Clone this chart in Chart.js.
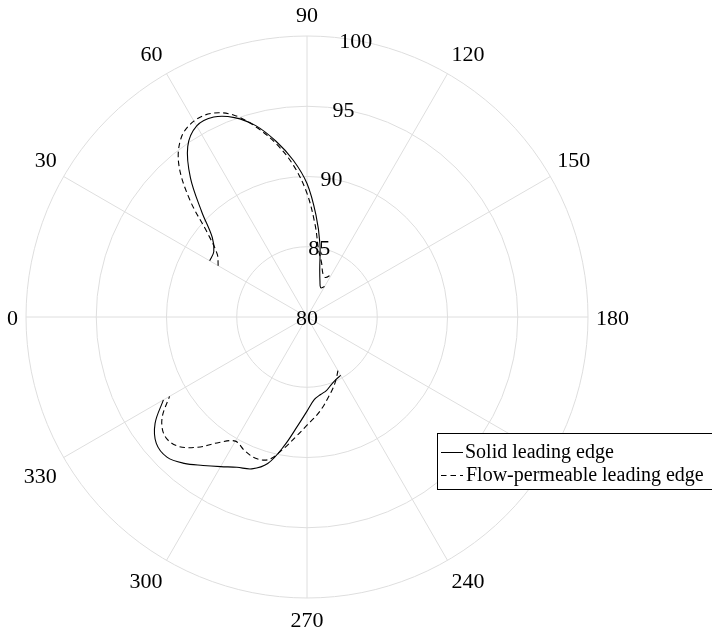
<!DOCTYPE html>
<html lang="en">
<head>
  <meta charset="UTF-8" />
  <title>Polar plot: solid vs flow-permeable leading edge</title>
  <script src="https://cdn.jsdelivr.net/npm/chart.js"></script>
  <style>
    body { margin: 0; background: #fff; }
    #wrap { width: 712px; height: 635px; position: relative; }
  </style>
</head>
<body>
  <div id="wrap"><canvas id="polarChart"></canvas></div>

  <script>
    // angle grid: one label every 5 degrees, 0 at the left, clockwise
    const angleStep = 5;
    const angles = [];
    for (let a = 0; a < 360; a += angleStep) angles.push(a);

    const angleTickLabels = [0, 30, 60, 90, 120, 150, 180, 210, 240, 270, 300, 330];
    const radialTickLabels = [80, 85, 90, 95, 100];

    // upper lobe
    const thetaUpper = [30, 35, 40, 45, 50, 55, 60, 65, 70, 75, 80, 85, 90, 95, 100, 105, 110, 115, 120];
    const solidUpper = [88.0, 88.1, 88.8, 90.6, 92.9, 94.8, 95.7, 95.7, 95.1, 94.1, 92.7, 91.2, 89.5, 87.3, 85.3, 83.5, 82.7, 82.3, 82.5];
    const permUpper  = [87.3, 87.8, 89.2, 91.8, 94.2, 95.6, 96.1, 96.0, 95.3, 94.0, 92.5, 90.8, 88.8, 86.6, 84.8, 84.0, 83.3, 83.1, 83.5];

    // lower lobe
    const thetaLower = [240, 245, 250, 255, 260, 265, 270, 275, 280, 285, 290, 295, 300, 305, 310, 315, 320, 325, 330];
    const solidLower = [84.8, 84.9, 85.1, 85.4, 85.6, 85.9, 86.7, 87.8, 89.3, 90.8, 91.5, 91.8, 92.3, 92.9, 93.6, 94.1, 94.0, 93.2, 91.8];
    const permLower  = [84.4, 84.9, 85.4, 85.9, 86.5, 87.1, 87.7, 88.5, 89.5, 90.5, 90.7, 90.5, 90.2, 90.9, 92.1, 93.0, 93.2, 92.6, 91.3];

    // put the lobes on the full angle grid, null elsewhere
    function toGrid(parts) {
      const out = angles.map(() => null);
      parts.forEach(([th, vals]) => {
        th.forEach((t, i) => { out[t / angleStep] = vals[i]; });
      });
      return out;
    }

    const solidData = toGrid([[thetaUpper, solidUpper], [thetaLower, solidLower]]);
    const permData = toGrid([[thetaUpper, permUpper], [thetaLower, permLower]]);

    const gridColor = '#dedede';
    const labelFont = '22px "Liberation Serif"';
    const legendFont = '20px "Liberation Serif"';

    function sgn(v) { return Math.abs(v) < 1e-6 ? 0 : Math.sign(v); }

    // tick labels, angle labels and the legend box
    const polarDecor = {
      id: 'polarDecor',
      afterDraw(chart) {
        const s = chart.scales.r;
        const ctx = chart.ctx;
        ctx.save();
        ctx.fillStyle = '#000';
        ctx.font = labelFont;
        ctx.textAlign = 'center';
        ctx.textBaseline = 'alphabetic';
        const h = 15;

        angleTickLabels.forEach(a => {
          const p = s.getPointPosition(a / angleStep, s.drawingArea);
          const dx = p.x - s.xCenter, dy = p.y - s.yCenter;
          const len = Math.hypot(dx, dy);
          const ux = dx / len, uy = dy / len;
          const txt = String(a);
          const w = ctx.measureText(txt).width;
          const d = s.drawingArea + 8;
          const cx = s.xCenter + ux * d + sgn(ux) * w / 2;
          const cy = s.yCenter + uy * d + sgn(uy) * 13.5;
          ctx.fillText(txt, cx, cy + h / 2);
        });

        radialTickLabels.forEach(v => {
          const d = s.getDistanceFromCenterForValue(v);
          const p = s.getPointPosition(100 / angleStep, d);
          ctx.fillText(String(v), p.x, p.y + h / 2);
        });

        // legend
        const lx = 437.5, ly = 433.5;
        ctx.fillStyle = '#fff';
        ctx.fillRect(lx, ly, 290, 56);
        ctx.strokeStyle = '#000';
        ctx.lineWidth = 1;
        ctx.strokeRect(lx, ly, 290, 56);

        ctx.beginPath();
        ctx.moveTo(441, 452.5);
        ctx.lineTo(463, 452.5);
        ctx.stroke();
        ctx.setLineDash([5.5, 4]);
        ctx.beginPath();
        ctx.moveTo(441, 475.5);
        ctx.lineTo(463, 475.5);
        ctx.stroke();
        ctx.setLineDash([]);

        ctx.fillStyle = '#000';
        ctx.font = legendFont;
        ctx.textAlign = 'left';
        ctx.fillText('Solid leading edge', 465, 457.5);
        ctx.fillText('Flow-permeable leading edge', 466, 480.5);
        ctx.restore();
      }
    };

    new Chart(document.getElementById('polarChart'), {
      type: 'radar',
      data: {
        labels: angles.map(String),
        datasets: [
          {
            label: 'Solid leading edge',
            data: solidData,
            borderColor: '#000',
            borderWidth: 1.1,
            fill: false,
            tension: 0.35,
            pointRadius: 0,
            pointHitRadius: 0,
            spanGaps: false
          },
          {
            label: 'Flow-permeable leading edge',
            data: permData,
            borderColor: '#000',
            borderWidth: 1.1,
            borderDash: [5.5, 3.5],
            fill: false,
            tension: 0.35,
            pointRadius: 0,
            pointHitRadius: 0,
            spanGaps: false
          }
        ]
      },
      options: {
        responsive: true,
        maintainAspectRatio: false,
        devicePixelRatio: 1,
        animation: false,
        layout: { padding: { left: 26, top: 36, right: 123, bottom: 36 } },
        plugins: {
          legend: { display: false },
          tooltip: { enabled: false }
        },
        scales: {
          r: {
            min: 80,
            max: 100,
            startAngle: 270,
            ticks: { display: false, stepSize: 5 },
            grid: { circular: true, color: gridColor, lineWidth: 1 },
            angleLines: {
              color: gridColor,
              lineWidth: ctx => (ctx.index * angleStep) % 30 === 0 ? 1 : 0
            },
            pointLabels: { display: false }
          }
        }
      },
      plugins: [polarDecor]
    });
  </script>
</body>
</html>
